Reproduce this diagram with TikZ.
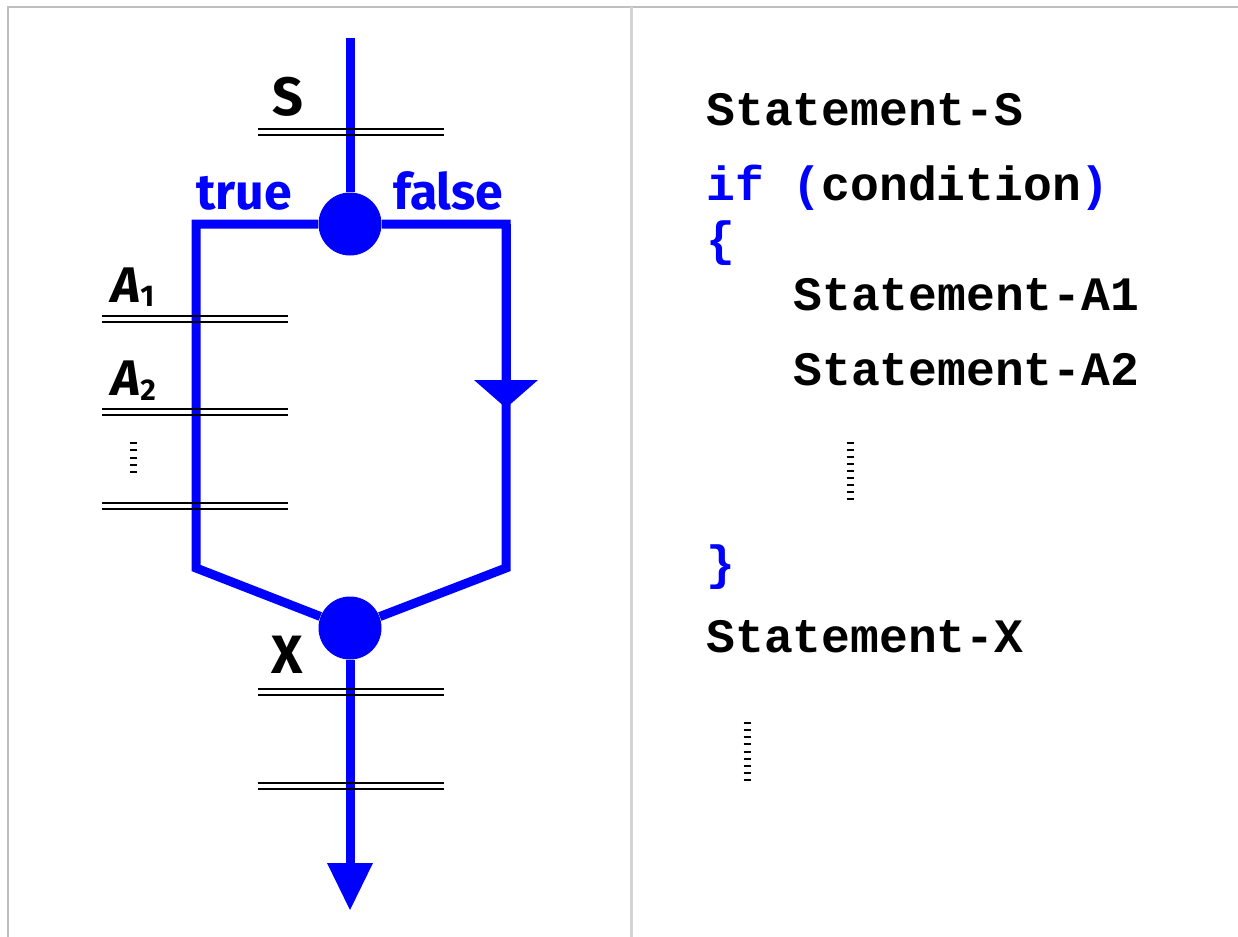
\documentclass[tikz,border=0pt]{standalone}
\usepackage{fontspec}
\setmainfont{Fira Sans}
\newfontfamily\codefont{Liberation Mono}
\usetikzlibrary{arrows.meta}
\begin{document}
\begin{tikzpicture}[x=0.5pt,y=-0.5pt,
  flow/.style={draw=blue, line width=4.5pt, line join=miter},
  bar/.style={draw=black, line width=1.2pt},
  dotbar/.style={draw=black, line width=1pt},
  junction/.style={circle, fill=blue, inner sep=0pt, minimum size=31.5pt},
  lbl/.style={font=\bfseries\fontsize{25}{30}\selectfont, inner sep=0pt, anchor=base west},
  code/.style={font=\codefont\bfseries\fontsize{24}{28}\selectfont, inner sep=0pt, anchor=base west},
  frame/.style={draw=black!25, line width=1.25pt},
  divider/.style={draw=black!17, line width=1.5pt}]

\useasboundingbox (0,0) rectangle (1238,937);

% frame
\draw[frame] (7,7) -- (1238,7);
\draw[frame] (8,7) -- (8,937);
\draw[divider] (631.5,7) -- (631.5,937);

% junctions and points
\node[junction] (top) at (350,224) {};
\node[junction] (bot) at (350,628) {};
\coordinate (start) at (350,38);
\coordinate (tl) at (196,224);
\coordinate (bl) at (196,568);
\coordinate (tr) at (506,224);
\coordinate (rmid) at (506,408);
\coordinate (br) at (506,568);
\coordinate (end) at (350,910);

% flow lines
\draw[flow] (start) -- (top);
\draw[flow] (top) -- (tl) -- (bl) -- (bot);
\draw[flow] (top) -- (tr) -- (br) -- (bot);
\draw[flow, -{Triangle[width=32pt,length=14pt,line width=0pt]}] (tr) -- (rmid);
\draw[flow, -{Triangle[width=23pt,length=23.5pt,line width=0pt]}] (bot) -- (end);

% statement bars
\foreach \y in {129,135} \draw[bar] (258,\y) -- (444,\y);
\foreach \y in {316,322,409,415,503,509} \draw[bar] (102,\y) -- (288,\y);
\foreach \y in {689,695,783,789} \draw[bar] (258,\y) -- (444,\y);

% vertical ellipsis marks
\foreach \k in {0,...,4} \draw[dotbar] (130,{443+7.25*\k}) -- (137,{443+7.25*\k});
\foreach \k in {0,...,8} \draw[dotbar] (846.5,{443+7*\k}) -- (853.5,{443+7*\k});
\foreach \k in {0,...,8} \draw[dotbar] (743.5,{723+7.125*\k}) -- (750.5,{723+7.125*\k});

% flow labels
\node[lbl] (S) at (272,115) {\fontsize{27}{30}\selectfont S};
\node[lbl, text=blue] (true) at (196,209) {true};
\node[lbl, text=blue] (false) at (393,209) {false};
\node[lbl] (A1) at (111,302) {\itshape A\raisebox{-2pt}{\fontsize{15}{15}\selectfont\upshape 1}};
\node[lbl] (A2) at (111,395) {\itshape A\raisebox{-2.5pt}{\fontsize{15}{15}\selectfont\upshape 2}};
\node[lbl] (X) at (271,673) {\fontsize{27}{30}\selectfont X};

% code
\node[code] (cS) at (706,125) {Statement-S};
\node[code] (cif) at (706,200) {\textcolor{blue}{if (}condition\textcolor{blue}{)}};
\node[code, text=blue] (cob) at (706,255) {\{};
\node[code] (cA1) at (793,310) {Statement-A1};
\node[code] (cA2) at (793,385) {Statement-A2};
\node[code, text=blue] (ccb) at (706,579) {\}};
\node[code] (cX) at (706,652) {Statement-X};
\end{tikzpicture}
\end{document}
